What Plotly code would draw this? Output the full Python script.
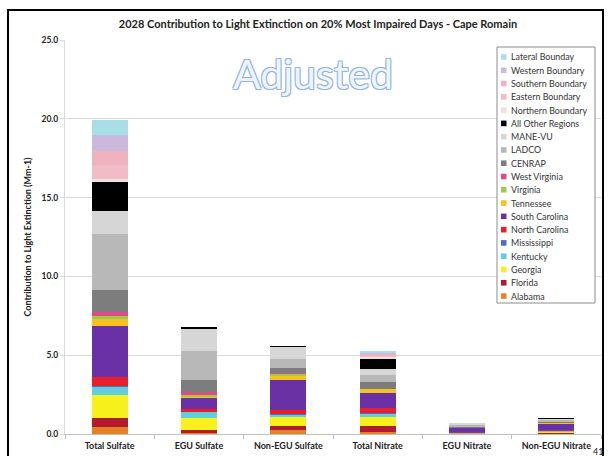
import plotly.graph_objects as go

categories = ["Total Sulfate", "EGU Sulfate", "Non-EGU Sulfate", "Total Nitrate", "EGU Nitrate", "Non-EGU Nitrate"]

# stacking order bottom -> top
series_names = ["Alabama", "Florida", "Georgia", "Kentucky", "Mississippi", "North Carolina",
                "South Carolina", "Tennessee", "Virginia", "West Virginia", "CENRAP", "LADCO",
                "MANE-VU", "All Other Regions", "Northern Boundary", "Eastern Boundary",
                "Southern Boundary", "Western Boundary", "Lateral Bounday"]

series_colors = ["#e2832a", "#b01c2e", "#f7f01a", "#5fcfdc", "#4d6ccf", "#e81e2c",
                 "#6a30a6", "#f6c21b", "#9acd4c", "#e04b86", "#7d7d7d", "#b8b8b8",
                 "#d6d6d6", "#000000", "#eedfe3", "#f2bcc6", "#efb2bf", "#cbb8dc", "#a9dde8"]

alabama = [0.45, 0.05, 0.25, 0.15, 0.01, 0.05]
florida = [0.55, 0.20, 0.26, 0.36, 0.02, 0.03]
georgia = [1.47, 0.75, 0.63, 0.55, 0.03, 0.10]
kentucky = [0.55, 0.40, 0.12, 0.25, 0.02, 0.02]
mississippi = [0.05, 0.02, 0.02, 0.02, 0.00, 0.00]
north_carolina = [0.57, 0.18, 0.23, 0.30, 0.04, 0.05]
south_carolina = [3.20, 0.70, 1.90, 0.95, 0.30, 0.40]
tennessee = [0.43, 0.10, 0.30, 0.25, 0.02, 0.05]
virginia = [0.20, 0.07, 0.10, 0.00, 0.00, 0.00]
west_virginia = [0.27, 0.17, 0.03, 0.00, 0.00, 0.00]
cenrap = [1.42, 0.80, 0.32, 0.49, 0.05, 0.08]
ladco = [3.50, 1.80, 0.60, 0.40, 0.10, 0.12]
mane_vu = [1.50, 1.45, 0.77, 0.38, 0.09, 0.10]
all_other = [1.80, 0.05, 0.05, 0.70, 0.00, 0.01]
northern = [0.20, 0.00, 0.00, 0.10, 0.00, 0.00]
eastern = [0.90, 0.00, 0.00, 0.10, 0.00, 0.00]
southern = [0.90, 0.00, 0.00, 0.10, 0.00, 0.00]
western = [1.00, 0.00, 0.00, 0.05, 0.00, 0.00]
lateral = [0.96, 0.00, 0.00, 0.07, 0.00, 0.00]

series_values = [alabama, florida, georgia, kentucky, mississippi, north_carolina,
                 south_carolina, tennessee, virginia, west_virginia, cenrap, ladco,
                 mane_vu, all_other, northern, eastern, southern, western, lateral]

y_ticks = [0, 5, 10, 15, 20, 25]

FONT = "Lato, 'Open Sans', sans-serif"

fig = go.Figure()
for name, color, vals in zip(series_names, series_colors, series_values):
    fig.add_trace(go.Bar(x=categories, y=vals, name=name,
                         marker=dict(color=color, line=dict(width=0)),
                         showlegend=False))

# plot-area geometry (pixels) for placing the hand-drawn legend
W, H = 609, 456
L, R, T, B = 65, 8, 40, 22
pw, ph = W - L - R, H - T - B

def px(x):
    return (x - L) / pw

def py(y):
    return (H - B - y) / ph

shapes = []
annotations = []

# legend box
shapes.append(dict(type="rect", xref="paper", yref="paper",
                   x0=px(497), x1=px(595), y0=py(303), y1=py(47),
                   line=dict(color="#8c8c8c", width=1), fillcolor="white", layer="above"))
legend_items = list(zip(series_names, series_colors))[::-1]
for i, (name, color) in enumerate(legend_items):
    yc = 57 + i * 13.28
    shapes.append(dict(type="rect", xref="paper", yref="paper",
                       x0=px(501), x1=px(506.5), y0=py(yc + 2.8), y1=py(yc - 2.8),
                       line=dict(width=0), fillcolor=color, layer="above"))
    annotations.append(dict(x=px(509), y=py(yc), xref="paper", yref="paper",
                            text=name, showarrow=False, xanchor="left", yanchor="middle",
                            font=dict(family=FONT, size=8.9, color="#333333")))

# outer slide frame
shapes.append(dict(type="rect", xref="paper", yref="paper",
                   x0=px(8), x1=px(603), y0=py(470), y1=py(10),
                   line=dict(color="black", width=2), fillcolor="rgba(0,0,0,0)", layer="above"))

# watermark
annotations.append(dict(x=px(313), y=py(73), xref="paper", yref="paper",
                        text="Adjusted", showarrow=False, xanchor="center", yanchor="middle",
                        font=dict(family=FONT, size=41, color="#eef4fb",
                                  shadow="1px 1px 0 #8fb4de, -1px -1px 0 #8fb4de, 1px -1px 0 #8fb4de, -1px 1px 0 #8fb4de")))

# page number
annotations.append(dict(x=px(598), y=py(451), xref="paper", yref="paper",
                        text="41", showarrow=False, xanchor="center", yanchor="middle",
                        font=dict(family=FONT, size=9, color="#222222")))

fig.update_layout(
    barmode="stack",
    bargap=0.6,
    width=W, height=H,
    margin=dict(l=L, r=R, t=T, b=B, pad=0),
    paper_bgcolor="white",
    plot_bgcolor="white",
    font=dict(family=FONT, color="#222222"),
    title=dict(text="<b>2028 Contribution to Light Extinction on 20% Most Impaired Days - Cape Romain</b>",
               x=318 / W, xanchor="center", y=1 - 24 / H, yanchor="middle",
               font=dict(family=FONT, size=11, color="#222222")),
    xaxis=dict(tickfont=dict(family=FONT, size=9, color="#222222", weight="bold"),
               showline=True, linecolor="#bfbfbf", linewidth=1,
               ticks="outside", tickson="boundaries", ticklen=4, tickcolor="#bfbfbf",
               ticklabelstandoff=3, automargin=False,
               showgrid=False),
    yaxis=dict(range=[0, 25], tickvals=y_ticks, tickformat=".1f",
               tickfont=dict(family=FONT, size=8.5, color="#222222", weight="bold"),
               showgrid=True, gridcolor="#d9d9d9", gridwidth=1,
               showline=True, linecolor="#d9d9d9", linewidth=1,
               ticks="outside", ticklen=4, tickcolor="#d9d9d9",
               zeroline=False, automargin=False,
               title=dict(text="<b>Contribution to Light Extinction (Mm-1)</b>",
                          font=dict(family=FONT, size=9, color="#222222"), standoff=8)),
    shapes=shapes,
    annotations=annotations,
    showlegend=False,
)

fig.write_html("out.html", config={"displayModeBar": False},
               post_script="document.body.style.margin='0px';document.body.style.overflow='hidden';")
